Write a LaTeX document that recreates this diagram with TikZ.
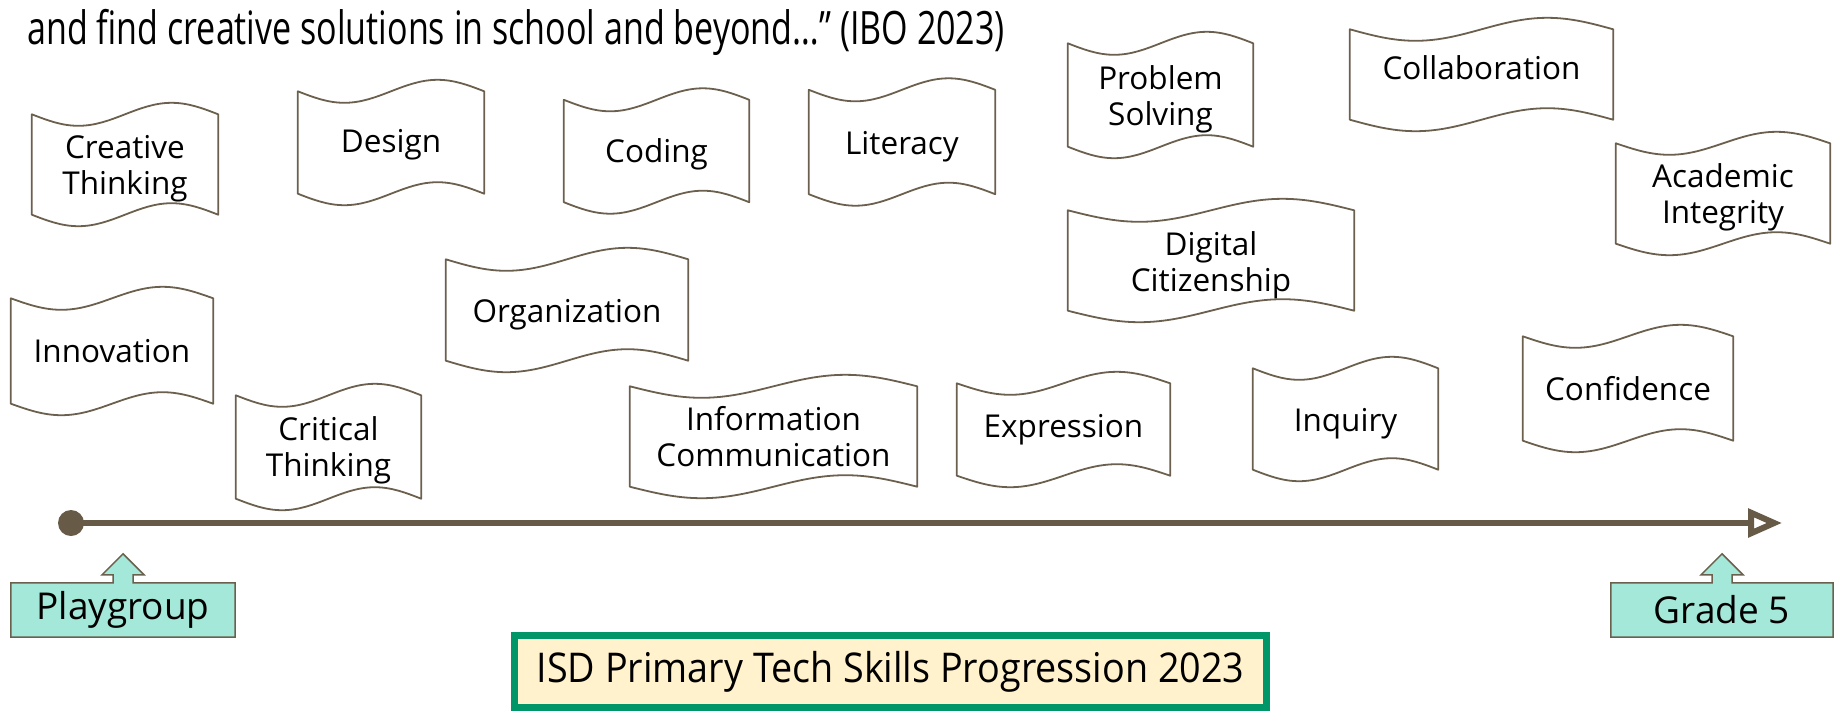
\documentclass[tikz,border=0pt]{standalone}
\usepackage{fontspec}
\setmainfont{Open Sans}
\newfontfamily\quotefont[FakeStretch=0.74]{Open Sans}
\newfontfamily\titlefont[FakeStretch=0.92]{Open Sans}
\usetikzlibrary{calc,arrows.meta}
\pgfdeclarelayer{background}
\pgfsetlayers{background,main}

\definecolor{edgebrown}{RGB}{107,96,77}
\definecolor{axisbrown}{RGB}{103,90,70}
\definecolor{mint}{RGB}{163,232,216}
\definecolor{framegreen}{RGB}{0,150,104}
\definecolor{cream}{RGB}{255,242,204}

% wave amplitude of the ribbon edges (pixel units, y grows downwards)
\newcommand\tapeamp{11.5}
% wavy ribbon outline around a named node; #2 lifts the outline above the text
\newcommand\tapeedge[2]{%
  \pgfmathsetmacro\tlift{-(#2)}%
  \pgfmathsetmacro\tdip{\tapeamp-(#2)}%
  \pgfmathsetmacro\tpeak{-\tapeamp-(#2)}%
  \draw[tapeline] ($(#1.north west)+(0,\tlift)$)
    sin ($(#1.north west)!.25!(#1.north east)+(0,\tdip)$)
    cos ($(#1.north)+(0,\tlift)$)
    sin ($(#1.north west)!.75!(#1.north east)+(0,\tpeak)$)
    cos ($(#1.north east)+(0,\tlift)$)
    -- ($(#1.south east)+(0,\tlift)$)
    sin ($(#1.south west)!.75!(#1.south east)+(0,\tpeak)$)
    cos ($(#1.south)+(0,\tlift)$)
    sin ($(#1.south west)!.25!(#1.south east)+(0,\tdip)$)
    cos ($(#1.south west)+(0,\tlift)$) -- cycle;}
% label box with an upward arrow on its top edge
\newcommand\upcallout[1]{%
  \begin{pgfonlayer}{background}
  \draw[calloutline] (#1.south west) -- (#1.north west)
    -- ([xshift=-10pt]#1.north) -- ([xshift=-10pt,yshift=8pt]#1.north)
    -- ([xshift=-21pt,yshift=8pt]#1.north) -- ([yshift=29pt]#1.north)
    -- ([xshift=21pt,yshift=8pt]#1.north) -- ([xshift=10pt,yshift=8pt]#1.north)
    -- ([xshift=10pt]#1.north) -- (#1.north east) -- (#1.south east) -- cycle;
  \end{pgfonlayer}}

\begin{document}
\begin{tikzpicture}[x=1pt,y=-1pt,
  skill/.style={rectangle, inner sep=0pt, align=center,
    font=\fontsize{31.5}{36}\selectfont},
  tapeline/.style={draw=edgebrown, line width=1.8pt, line join=round},
  stagebox/.style={rectangle, inner sep=0pt, minimum height=54pt,
    font=\fontsize{37}{44}\selectfont},
  calloutline/.style={fill=mint, draw=edgebrown, line width=1.5pt, line join=miter},
]
\useasboundingbox (0,0) rectangle (1835,713);

% quotation line
\node[anchor=base west, inner sep=0pt, font=\quotefont\fontsize{46}{54}\selectfont]
  (quote) at (27,44) {and find creative solutions in school and beyond…” (IBO 2023)};

% skills: nodes sit at the text centre, outlines are lifted by the given offset
\node[skill, minimum width=186pt, minimum height=100pt] (creative) at (125,169) {Creative\\Thinking};
\node[skill, minimum width=186pt, minimum height=102pt] (design) at (391,145) {Design};
\node[skill, minimum width=185pt, minimum height=102pt] (coding) at (656.5,154.5) {Coding};
\node[skill, minimum width=186pt, minimum height=104pt] (literacy) at (902,147) {Literacy};
\node[skill, minimum width=185pt, minimum height=103pt] (problem) at (1160.5,99.5) {Problem\\Solving};
\node[skill, minimum width=263pt, minimum height=90pt] (collab) at (1481.5,68) {Collaboration};
\node[skill, minimum width=214pt, minimum height=100pt] (academic) at (1723,197.5) {Academic\\Integrity};
\node[skill, minimum width=286pt, minimum height=100pt] (digital) at (1211,265) {Digital\\Citizenship};
\node[skill, minimum width=242pt, minimum height=101pt] (organization) at (567,314.5) {Organization};
\node[skill, minimum width=202pt, minimum height=105pt] (innovation) at (112,351) {Innovation};
\node[skill, minimum width=185pt, minimum height=103pt] (critical) at (328.5,450) {Critical\\Thinking};
\node[skill, minimum width=287pt, minimum height=100pt] (infocomm) at (773.5,436.5) {Information\\Communication};
\node[skill, minimum width=213pt, minimum height=92pt] (expression) at (1063.5,429.5) {Expression};
\node[skill, minimum width=185pt, minimum height=101pt] (inquiry) at (1345.5,423.5) {Inquiry};
\node[skill, minimum width=210pt, minimum height=104pt] (confidence) at (1628,388.5) {Confidence};

\foreach \n/\lift in {creative/4.5,design/2.5,coding/3.5,literacy/5,problem/4.5,
  collab/-6.5,academic/4,digital/4.5,organization/4.5,innovation/0,critical/3,
  infocomm/0,expression/0,inquiry/4.5,confidence/0}
  {\tapeedge{\n}{\lift}}

% timeline
\node[circle, fill=axisbrown, inner sep=0pt, minimum size=26pt] (origin) at (71,523) {};
\coordinate (axisend) at (1782,523);
\draw[axisbrown, line width=6pt, -{Triangle[open, length=34pt, width=28pt]}]
  (origin.center) -- (axisend);

% stage labels
\node[stagebox, minimum width=224pt] (playgroup) at (123,610) {Playgroup};
\node[stagebox, minimum width=222pt] (grade) at (1722,610) {Grade 5};
\upcallout{playgroup}
\upcallout{grade}

% title
\node[draw=framegreen, line width=7pt, fill=cream, inner sep=0pt,
  minimum width=752pt, minimum height=72pt,
  font=\titlefont\fontsize{41}{48}\selectfont] (title) at (890.5,671.5)
  {ISD Primary Tech Skills Progression 2023};
\end{tikzpicture}
\end{document}
